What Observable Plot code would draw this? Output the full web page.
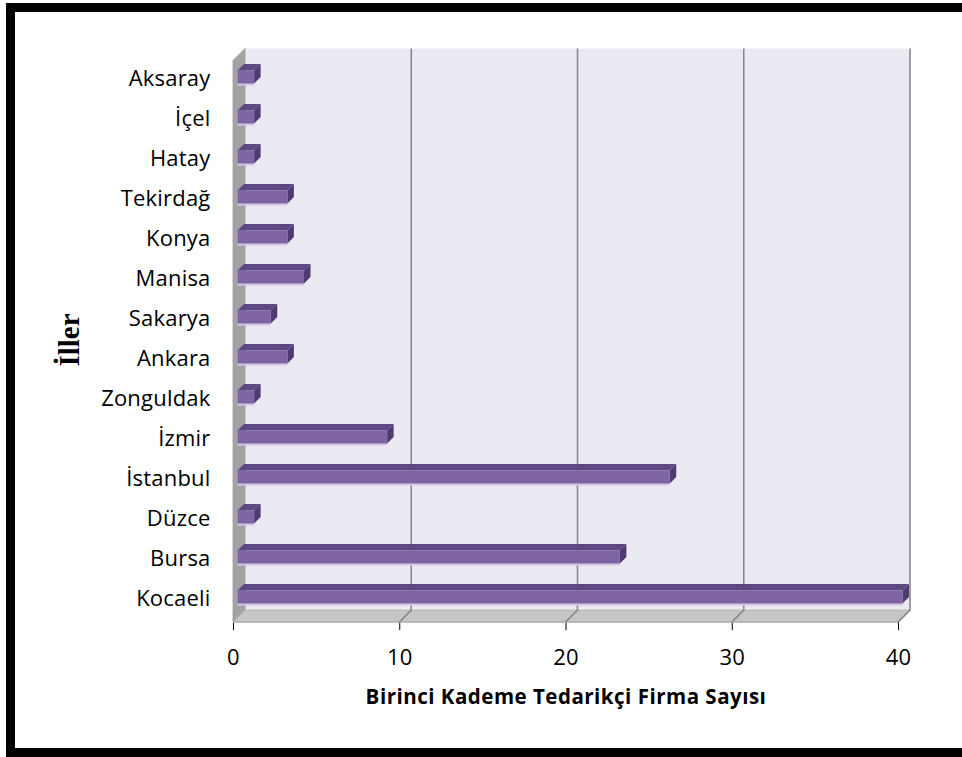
<!DOCTYPE html>
<html>
<head>
<meta charset="utf-8">
<script src="https://cdn.jsdelivr.net/npm/d3@7"></script>
<script src="https://cdn.jsdelivr.net/npm/@observablehq/plot@0.6"></script>
<style>
  html, body { margin: 0; padding: 0; background: #fff; }
  #wrap { position: relative; width: 962px; height: 757px; overflow: hidden; background: #fff; }
  #chart { position: absolute; left: 0; top: 0; }
  #border { position: absolute; left: 6px; top: 3px; width: 960px; height: 754px; box-sizing: border-box;
            border-top: 9px solid #000; border-left: 9px solid #000; border-bottom: 9px solid #000; pointer-events: none; }
  #ylab { position: absolute; left: 69px; top: 340px; transform: translate(-50%, -50%) rotate(-90deg);
          font-family: "Liberation Serif", "DejaVu Serif", serif; font-weight: bold; font-size: 29px; white-space: nowrap; }
  #xlab { position: absolute; left: 566px; top: 696px; transform: translate(-50%, -50%);
          font-family: "Open Sans", sans-serif; font-weight: bold; font-size: 20.5px; letter-spacing: 0.5px; white-space: nowrap; }
</style>
</head>
<body>
<div id="wrap">
  <div id="chart"></div>
  <div id="ylab">İller</div>
  <div id="xlab">Birinci Kademe Tedarikçi Firma Sayısı</div>
  <div id="border"></div>
</div>
<script>
const iller = ["Aksaray", "İçel", "Hatay", "Tekirdağ", "Konya", "Manisa", "Sakarya", "Ankara", "Zonguldak", "İzmir", "İstanbul", "Düzce", "Bursa", "Kocaeli"];
const firmaSayisi = [1, 1, 1, 3, 3, 4, 2, 3, 1, 9, 26, 1, 23, 40];
const xTicks = [0, 10, 20, 30, 40];
const gridTicks = [10, 20, 30, 40];

const data = iller.map((il, i) => ({il, n: firmaSayisi[i]}));

const D = 12;      // depth of the 3D box
const B = 4.5;     // depth of bar plane
const T = 6.5;     // bar thickness (depth)

function walls(index, scales, values, dimensions) {
  const sx = scales.x;
  const {height, marginTop, marginBottom} = dimensions;
  const x0 = sx(0), x40 = sx(40);
  const top = marginTop, bot = height - marginBottom;
  const g = d3.create("svg:g");
  g.append("rect").attr("x", x0 + D).attr("y", top - D).attr("width", x40 - x0).attr("height", bot - top)
    .attr("fill", "#ebe9f1");
  g.append("polygon").attr("points", [[x0, top], [x0 + D, top - D], [x0 + D, bot - D], [x0, bot]].join(" "))
    .attr("fill", "#a3a3a3").attr("stroke", "#9a9a9a").attr("stroke-width", 0.8);
  g.append("polygon").attr("points", [[x0, bot], [x0 + D, bot - D], [x40 + D, bot - D], [x40, bot]].join(" "))
    .attr("fill", "#c6c6c6").attr("stroke", "#b0b0b0").attr("stroke-width", 0.8);
  for (const t of gridTicks) {
    const xt = sx(t);
    g.append("polyline").attr("points", [[xt + D, top - D], [xt + D, bot - D], [xt, bot]].join(" "))
      .attr("fill", "none").attr("stroke", "#8a8a8a").attr("stroke-width", 1.6);
  }
  g.append("line").attr("x1", x0).attr("x2", x40).attr("y1", bot).attr("y2", bot)
    .attr("stroke", "#a8a8a8").attr("stroke-width", 1);
  return g.node();
}

function barBoxes(index, scales) {
  const sx = scales.x, sy = scales.y;
  const bw = sy.bandwidth ? sy.bandwidth() : 12.8;
  const g = d3.create("svg:g");
  data.forEach(d => {
    const x0 = sx(0) + B, xv = sx(d.n) + B;
    const yt = sy(d.il) - B, yb = yt + bw;
    g.append("polygon").attr("points", [[x0, yt], [x0 + T, yt - T], [xv + T, yt - T], [xv, yt]].join(" "))
      .attr("fill", "#5d4883");
    g.append("polygon").attr("points", [[xv, yt], [xv + T, yt - T], [xv + T, yb - T], [xv, yb]].join(" "))
      .attr("fill", "#4f3b72");
  });
  return g.node();
}

const chart = Plot.plot({
  width: 962,
  height: 757,
  marginTop: 60.5,
  marginBottom: 134.9,
  marginLeft: 233,
  marginRight: 64,
  style: {fontFamily: "Open Sans, sans-serif", fontSize: "22px", letterSpacing: "0.2px", color: "#000", background: "transparent"},
  x: {domain: [0, 40], ticks: xTicks, tickSize: 8, tickPadding: 19, label: null},
  y: {domain: iller, paddingInner: 0.68, paddingOuter: 0.34, tickSize: 0, tickPadding: 23, label: null},
  marks: [
    walls,
    Plot.barX(data, {y: "il", x1: 0, x2: "n", fill: "#d4cbe3", dx: B, dy: -B + 2}),
    barBoxes,
    Plot.barX(data, {y: "il", x1: 0, x2: "n", fill: "#7f64a4", dx: B, dy: -B})
  ]
});
document.getElementById("chart").appendChild(chart);
// nudge y tick labels slightly upward toward the bar plane
chart.querySelectorAll('[aria-label="y-axis tick label"] text, [aria-label="y-axis"] text').forEach(t => {
  t.setAttribute("transform", (t.getAttribute("transform") || "") + " translate(0,-3)");
});
</script>
</body>
</html>
